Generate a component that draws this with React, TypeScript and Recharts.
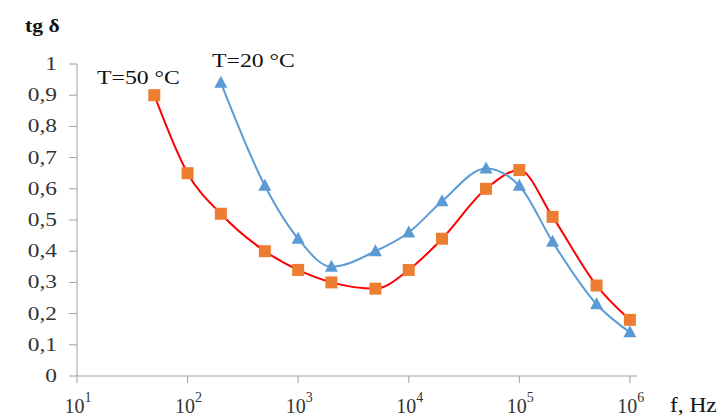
import React from 'react';
import { LineChart, Line, XAxis, YAxis } from 'recharts';

// frequency, Hz
const freqs = [50, 100, 200, 500, 1000, 2000, 5000, 1e4, 2e4, 5e4, 1e5, 2e5, 5e5, 1e6];
// tg delta at T=50 °C
const t50 = [0.9, 0.65, 0.52, 0.4, 0.34, 0.3, 0.28, 0.34, 0.44, 0.6, 0.66, 0.51, 0.29, 0.18];
// tg delta at T=20 °C (starts at 200 Hz)
const t20 = [null, null, 0.94, 0.61, 0.44, 0.35, 0.4, 0.46, 0.56, 0.665, 0.61, 0.43, 0.23, 0.14];

const xTicks = [10, 100, 1000, 1e4, 1e5, 1e6];
const yTicks = [0, 0.1, 0.2, 0.3, 0.4, 0.5, 0.6, 0.7, 0.8, 0.9, 1];

const chartData = freqs.map((f, i) => ({ f, t50: t50[i], t20: t20[i] }));

const SERIF = '"Liberation Serif", "Times New Roman", serif';
const AXIS = '#a0a0a0';

const XTick = (props: any) => {
  const { x, y, payload } = props;
  const exp = Math.round(Math.log10(payload.value));
  return (
    <text x={x + 1} y={y + 28} textAnchor="middle" fontFamily={SERIF} fontSize={20} fill="#333">
      10
      <tspan dy={-11} fontSize={14}>{exp}</tspan>
    </text>
  );
};

const YTick = (props: any) => {
  const { x, y, payload } = props;
  const label = String(payload.value).replace('.', ',');
  return (
    <g transform={`translate(${x - 10}, ${y + 6}) scale(1.3, 1)`}>
      <text x={0} y={0} textAnchor="end" fontFamily={SERIF} fontSize={18} fill="#333">
        {label}
      </text>
    </g>
  );
};

const Square = (props: any) => {
  const { cx, cy, index } = props;
  if (cx == null || cy == null) return <g key={`s${index}`} />;
  return <rect key={`s${index}`} x={cx - 6} y={cy - 6} width={12} height={12} fill="#ED7D31" />;
};

const Triangle = (props: any) => {
  const { cx, cy, index, value } = props;
  if (cx == null || cy == null || value == null) return <g key={`t${index}`} />;
  return (
    <polygon
      key={`t${index}`}
      points={`${cx},${cy - 7} ${cx - 6.5},${cy + 5} ${cx + 6.5},${cy + 5}`}
      fill="#5B9BD5"
    />
  );
};

const Label = ({ x, y, text, size, sx, bold }: any) => (
  <g transform={`translate(${x}, ${y}) scale(${sx}, 1)`}>
    <text x={0} y={0} fontFamily={SERIF} fontSize={size} fontWeight={bold ? 'bold' : 'normal'} fill="#111">
      {text}
    </text>
  </g>
);

export default function App() {
  return (
    <div style={{ position: 'absolute', left: 0, top: 0, width: 722, height: 419, background: '#fff' }}>
      <LineChart
        width={722}
        height={419}
        data={chartData}
        margin={{ top: 64, right: 85, bottom: 0, left: 0 }}
      >
        <XAxis
          dataKey="f"
          type="number"
          scale="log"
          domain={[10, 1.16e6]}
          ticks={xTicks}
          allowDataOverflow
          height={43}
          tickSize={7}
          stroke={AXIS}
          tick={<XTick />}
        />
        <YAxis
          type="number"
          domain={[0, 1]}
          ticks={yTicks}
          width={77}
          tickSize={8}
          stroke={AXIS}
          tick={<YTick />}
        />
        <Line
          dataKey="t50"
          type="monotone"
          stroke="#FF0000"
          strokeWidth={2}
          dot={<Square />}
          activeDot={false}
          isAnimationActive={false}
        />
        <Line
          dataKey="t20"
          type="monotone"
          stroke="#5B9BD5"
          strokeWidth={2}
          dot={<Triangle />}
          activeDot={false}
          isAnimationActive={false}
        />
      </LineChart>
      <svg
        width={722}
        height={419}
        style={{ position: 'absolute', left: 0, top: 0, pointerEvents: 'none' }}
      >
        <Label x={25} y={32} text="tg δ" size={18} sx={1.2} bold />
        <Label x={97} y={84} text="T=50 °C" size={19} sx={1.25} />
        <Label x={212} y={67} text="T=20 °C" size={19} sx={1.25} />
        <Label x={670} y={412} text="f, Hz" size={20} sx={1.17} />
      </svg>
    </div>
  );
}
